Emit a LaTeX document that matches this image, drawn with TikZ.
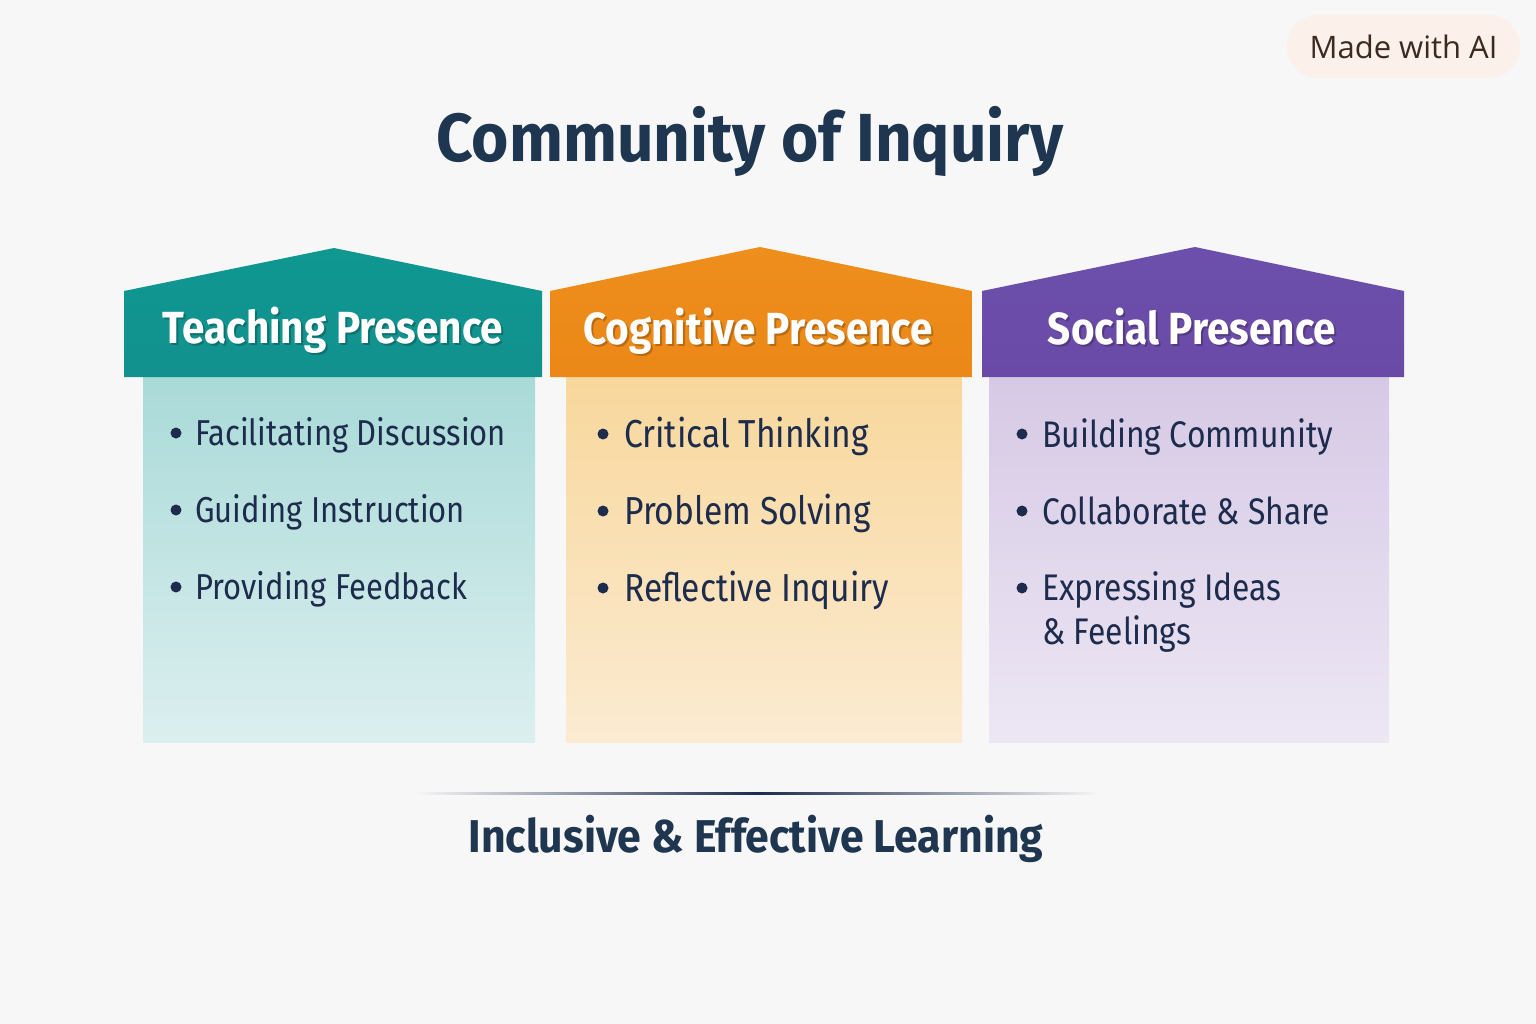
\documentclass[tikz,border=0pt]{standalone}
\usepackage{fontspec}
\setmainfont{Fira Sans}
\newfontfamily\condf[FakeStretch=0.86]{Fira Sans}
\newfontfamily\hdrf[FakeStretch=0.90]{Fira Sans}
\newfontfamily\titlef[FakeStretch=0.94]{Fira Sans}
\newfontfamily\footf[FakeStretch=0.93]{Fira Sans}
\newfontfamily\badgef{Open Sans}
\definecolor{bg}{HTML}{F7F7F8}
\definecolor{navy}{HTML}{1D2B4C}
\definecolor{titlec}{HTML}{1F3650}
\definecolor{teal}{HTML}{12918F}
\definecolor{tealtop}{HTML}{0F9790}
\definecolor{tealA}{HTML}{A9DAD8}
\definecolor{tealB}{HTML}{DCEFEF}
\definecolor{orng}{HTML}{EB8817}
\definecolor{orngtop}{HTML}{EE8E1C}
\definecolor{orngA}{HTML}{F8D79C}
\definecolor{orngB}{HTML}{FBEBD2}
\definecolor{purp}{HTML}{6A4AA6}
\definecolor{purptop}{HTML}{6C4FAC}
\definecolor{purpA}{HTML}{D6C9E5}
\definecolor{purpB}{HTML}{EDE7F4}
\definecolor{badge}{HTML}{FBF0EA}
\definecolor{badgetxt}{HTML}{3A2A22}
\tikzset{
  hdrtext/.style={text=white, font=\hdrf\bfseries\fontsize{45}{50}\selectfont, anchor=base},
  hdrshadow/.style={text=black, text opacity=0.22, font=\hdrf\bfseries\fontsize{45}{50}\selectfont, anchor=base},
  itemtext/.style={text=navy, anchor=base west, font=\condf\fontsize{36}{40}\selectfont, inner sep=0pt},
  itemtextB/.style={text=navy, anchor=base west, font=\condf\fontsize{39}{43}\selectfont, inner sep=0pt},
  itemtextC/.style={text=navy, anchor=base west, font=\condf\fontsize{37}{41}\selectfont, inner sep=0pt},
  dot/.style={circle, fill=navy, inner sep=0pt, minimum size=11pt},
}
\begin{document}
\begin{tikzpicture}[x=1pt,y=-1pt]
\fill[bg] (0,0) rectangle (1536,1024);
\useasboundingbox (0,0) rectangle (1536,1024);

% badge
\fill[badge] (1287,15) [rounded corners=31pt] rectangle (1520,78);
\node[text=badgetxt, font=\badgef\fontsize{31}{34}\selectfont, anchor=base] (badge) at (1403.5,59) {Made with AI};

% title
\node[text=titlec, font=\titlef\bfseries\fontsize{68}{74}\selectfont, anchor=base] (title) at (750,162) {Community of Inquiry};

% ---- Teaching column
\shade[top color=tealA, bottom color=tealB] (143,377) rectangle (535,742);
\shade[top color=tealtop, bottom color=teal] (124,291) -- (334,248) -- (542,291) -- (542,377) -- (124,377) -- cycle;
\node[hdrshadow] (s1) at (335,345.5) {Teaching Presence};
\node[hdrtext] (h1) at (333,343) {Teaching Presence};
\node[dot] (d11) at (176,433) {};
\node[itemtext] (t11) at (195,445) {Facilitating Discussion};
\node[dot] (d12) at (176,510) {};
\node[itemtext] (t12) at (195,522) {Guiding Instruction};
\node[dot] (d13) at (176,587) {};
\node[itemtext] (t13) at (195,599) {Providing Feedback};

% ---- Cognitive column
\shade[top color=orngA, bottom color=orngB] (566,377) rectangle (962,742);
\shade[top color=orngtop, bottom color=orng] (550,291) -- (760,247) -- (972,291) -- (972,377) -- (550,377) -- cycle;
\node[hdrshadow] (s2) at (760,346.5) {Cognitive Presence};
\node[hdrtext] (h2) at (758,344) {Cognitive Presence};
\node[dot] (d21) at (603,434) {};
\node[itemtextB] (t21) at (624,447) {Critical Thinking};
\node[dot] (d22) at (603,511) {};
\node[itemtextB] (t22) at (624,524) {Problem Solving};
\node[dot] (d23) at (603,588) {};
\node[itemtextB] (t23) at (624,601) {Reflective Inquiry};

% ---- Social column
\shade[top color=purpA, bottom color=purpB] (989,377) rectangle (1389,742);
\shade[top color=purptop, bottom color=purp] (982,291) -- (1195,247) -- (1404,291) -- (1404,377) -- (982,377) -- cycle;
\node[hdrshadow] (s3) at (1194,346.5) {Social Presence};
\node[hdrtext] (h3) at (1192,344) {Social Presence};
\node[dot] (d31) at (1022,434) {};
\node[itemtextC] (t31) at (1042,447) {Building Community};
\node[dot] (d32) at (1022,511) {};
\node[itemtextC] (t32) at (1042,524) {Collaborate \& Share};
\node[dot] (d33) at (1022,588) {};
\node[itemtextC] (t33) at (1042,600) {Expressing Ideas};
\node[itemtextC] (t34) at (1042,644) {\& Feelings};

% footer
\shade[left color=bg, right color=bg, middle color=navy] (415,792) rectangle (1100,794.5);
\node[text=titlec, font=\footf\bfseries\fontsize{46}{50}\selectfont, anchor=base] (foot) at (756,852) {Inclusive \& Effective Learning};
\end{tikzpicture}
\end{document}
